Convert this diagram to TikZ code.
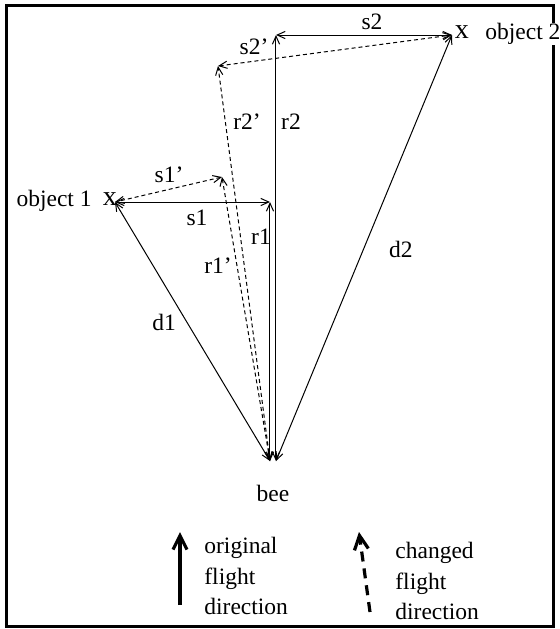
\documentclass[tikz,border=0pt]{standalone}
\usepackage{fontspec}
\setmainfont{Liberation Serif}
\usetikzlibrary{arrows.meta}

\begin{document}
\begin{tikzpicture}[
    x=0.5pt, y=-0.5pt,
    font=\fontsize{11.75pt}{15.25pt}\selectfont,
    vec/.style={line width=0.5pt, {Straight Barb[length=4pt,width=3.6pt]}-{Straight Barb[length=4pt,width=3.6pt]}},
    altvec/.style={vec, dash pattern=on 2pt off 1.5pt},
    legarrow/.style={line width=1.6pt, -{Straight Barb[length=7pt,width=7pt]}},
    objmark/.style={inner sep=0pt, font=\fontsize{14pt}{14pt}\selectfont},
    lbl/.style={inner sep=0pt}
]
\useasboundingbox (0,0) rectangle (560,629);
\draw[line width=1.5pt] (6.5,5.5) rectangle (553.5,626);

% objects and bee
\node[objmark] (obj1x) at (110,199) {x};
\node[lbl, anchor=east] (obj1lbl) at (92,201) {object 1};
\node[objmark] (obj2x) at (462,32) {x};
\node[lbl, anchor=west, fill=white, inner xsep=1pt] (obj2lbl) at (483,34) {object 2};
\node[lbl] (beelbl) at (273,493) {bee};

% end points
\coordinate (o1) at (115,202);
\coordinate (o2) at (452,35);
\coordinate (beeL) at (270,461);
\coordinate (beeR) at (276,461);
\coordinate (r1top) at (270,202);
\coordinate (r2top) at (276,35);
\coordinate (r1ptop) at (222,177);
\coordinate (r2ptop) at (218,66);

% original vectors
\draw[vec] (beeL) -- (o1);
\draw[vec] (beeR) -- (o2);
\draw[vec] (beeL) -- (r1top);
\draw[vec] (r1top) -- (o1);
\draw[vec] (beeR) -- (r2top);
\draw[vec] (r2top) -- (o2);

% changed vectors
\draw[altvec] (beeL) -- (r1ptop);
\draw[altvec] (r1ptop) -- (o1);
\draw[altvec] (beeL) -- (r2ptop);
\draw[altvec] (r2ptop) -- (o2);

% labels
\node[lbl] (s2lbl) at (372,22) {s2};
\node[lbl] (s2plbl) at (254,47) {s2'};
\node[lbl] (r2plbl) at (247,122) {r2'};
\node[lbl] (r2lbl) at (291,122) {r2};
\node[lbl] (s1plbl) at (169,175) {s1'};
\node[lbl] (s1lbl) at (197,218) {s1};
\node[lbl] (r1lbl) at (261,237) {r1};
\node[lbl] (r1plbl) at (218,266) {r1'};
\node[lbl] (d1lbl) at (164,322) {d1};
\node[lbl] (d2lbl) at (401,249) {d2};

% legend
\coordinate (origtail) at (180,605);
\coordinate (orighead) at (180,532);
\coordinate (chtail) at (370,612);
\coordinate (chhead) at (359,532);
\draw[legarrow] (origtail) -- (orighead);
\draw[legarrow, dash pattern=on 5pt off 3.5pt] (chtail) -- (chhead);
\node[lbl, anchor=west, align=left] (origlbl) at (204,576) {original\\flight\\direction};
\node[lbl, anchor=west, align=left] (chlbl) at (395,581) {changed\\flight\\direction};

\end{tikzpicture}
\end{document}
